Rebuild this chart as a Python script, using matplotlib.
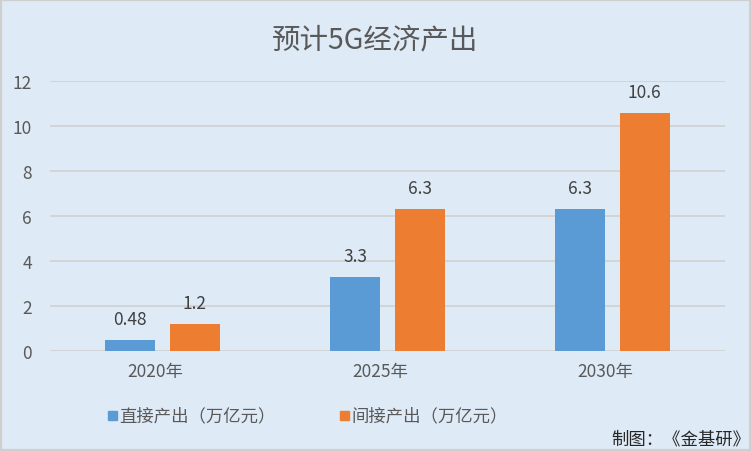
import numpy as np
import matplotlib
matplotlib.use("Agg")
import matplotlib.pyplot as plt
import matplotlib.transforms as mtransforms
from matplotlib.patches import Rectangle

plt.rcParams['font.family'] = ['Noto Sans CJK SC', 'DejaVu Sans']

# data
years = ["2020年", "2025年", "2030年"]
direct = [0.48, 3.3, 6.3]
indirect = [1.2, 6.3, 10.6]
series_names = ["直接产出（万亿元）", "间接产出（万亿元）"]
yticks = [0, 2, 4, 6, 8, 10, 12]

blue = "#5B9BD5"
orange = "#ED7D31"
bg = "#DEEAF6"
txt = "#595959"

fig = plt.figure(figsize=(7.51, 4.52), dpi=100)
fig.patch.set_facecolor(bg)
ax = fig.add_axes([50 / 751, 100 / 452, 675 / 751, 270 / 452])
ax.set_facecolor(bg)

x = np.arange(len(years))
w = 0.222
off = 0.143
b1 = ax.bar(x - off, direct, w, color=blue, zorder=3)
b2 = ax.bar(x + off, indirect, w, color=orange, zorder=3)

# value labels
for bars, vals in ((b1, direct), (b2, indirect)):
    for r, v in zip(bars, vals):
        ax.annotate(f"{v:g}", (r.get_x() + r.get_width() / 2, v),
                    xytext=(0, 8.5), textcoords="offset points",
                    ha="center", va="bottom", fontsize=12.5, color="#404040")

ax.set_xlim(-0.5, len(years) - 0.5)
ax.set_ylim(0, 12)
ax.set_yticks(yticks)
ax.set_yticklabels([str(t) for t in yticks], fontsize=12.5, color=txt)
ax.set_xticks(x)
ax.set_xticklabels(years, fontsize=12.5, color=txt)
ax.tick_params(length=0)
ax.tick_params(axis='y', pad=13)
ax.tick_params(axis='x', pad=8)
# category labels sit slightly left of the bar pairs, as in the original
shift = mtransforms.ScaledTranslation(-7 / 100, 0, fig.dpi_scale_trans)
for lbl in ax.get_xticklabels():
    lbl.set_transform(lbl.get_transform() + shift)
ax.grid(axis='y', color="#D0D0D0", linewidth=1.2, zorder=0)
for s in ax.spines.values():
    s.set_visible(False)

fig.text(0.5, 1 - 40 / 452, "预计5G经济产出", ha="center", va="center",
         fontsize=20.5, color=txt)

# legend
fig.patches.append(Rectangle((108 / 751, 1 - 421 / 452), 9 / 751, 9 / 452,
                             transform=fig.transFigure, color=blue))
fig.text(119 / 751, 1 - 416 / 452, series_names[0], ha="left", va="center",
         fontsize=12.5, color=txt)
fig.patches.append(Rectangle((340 / 751, 1 - 421 / 452), 9 / 751, 9 / 452,
                             transform=fig.transFigure, color=orange))
fig.text(351 / 751, 1 - 416 / 452, series_names[1], ha="left", va="center",
         fontsize=12.5, color=txt)

fig.text(750 / 751, 1 - 440 / 452, "制图：《金基研》", ha="right", va="center",
         fontsize=12.5, color="#262626")

# outer frame
fig.patches.append(Rectangle((0, 0), 1, 1, transform=fig.transFigure,
                             fill=False, edgecolor="#CFCFCF", linewidth=3))

fig.savefig("out.png", dpi=100, facecolor=bg)
